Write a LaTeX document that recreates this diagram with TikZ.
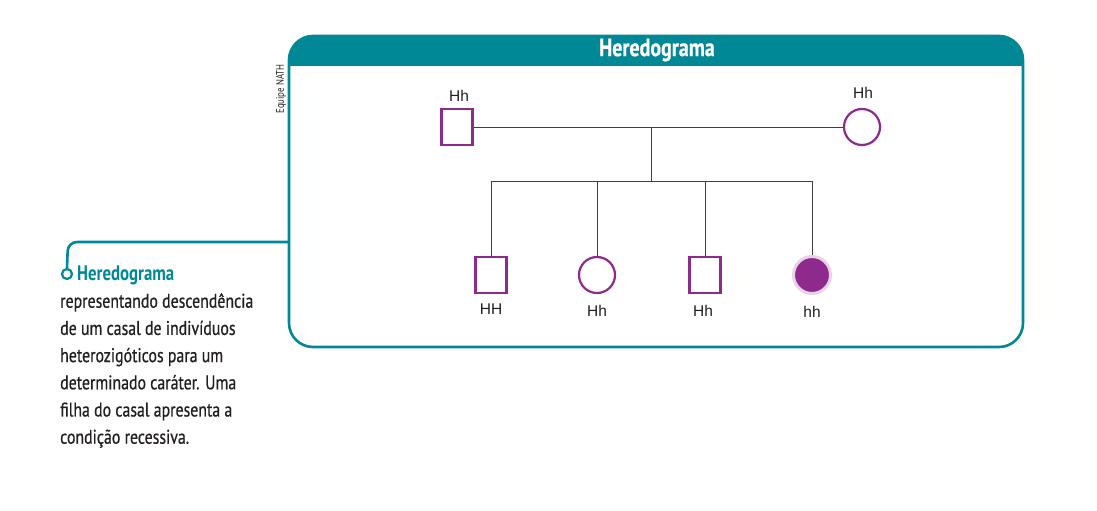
\documentclass[tikz,border=0pt]{standalone}
\usepackage{fontspec}
\setmainfont{Liberation Sans}
\newfontfamily\condfont[FakeStretch=0.8]{PT Sans}
\newfontfamily\bodyfont[FakeStretch=0.8,FakeBold=0.6]{PT Sans}
\newfontfamily\armfont{Liberation Sans}
\definecolor{teal}{HTML}{008896}
\definecolor{purp}{HTML}{8E2A8C}
\definecolor{halo}{HTML}{E8D2E8}
\definecolor{ink}{HTML}{231F20}
\tikzset{
  male/.style={draw=purp, line width=2.2pt, fill=white, minimum width=31pt, minimum height=36pt, inner sep=0pt},
  female/.style={circle, draw=purp, line width=2.2pt, fill=white, minimum size=36pt, inner sep=0pt},
  affected/.style={circle, draw=halo, line width=3pt, fill=purp, minimum size=37pt, inner sep=0pt},
  geno/.style={font=\armfont\fontsize{15.5}{15.5}\selectfont, text=ink, inner sep=0pt},
  link/.style={draw=black!75, line width=0.8pt},
  frame/.style={draw=teal, line width=2.6pt},
}
\begin{document}
\begin{tikzpicture}[x=1pt,y=-1pt]
\useasboundingbox (0,0) rectangle (1097,511);
% frame
\begin{scope}
  \clip[rounded corners=24pt] (289,36) rectangle (1023,347);
  \fill[teal] (280,30) rectangle (1030,66);
\end{scope}
\draw[frame, rounded corners=24pt] (289,36) rectangle (1023,347);
\node[font=\bodyfont\bfseries\fontsize{25}{25}\selectfont, text=white] (title) at (657,50) {Heredograma};
\node[rotate=90, font=\condfont\fontsize{11}{11}\selectfont, text=ink, inner sep=0pt] (credit) at (281,89) {Equipe NATH};
% connector
\coordinate (boxleft) at (289,242);
\node[circle, draw=teal, line width=2.2pt, fill=white, minimum size=10pt, inner sep=0pt] (dot) at (67,274) {};
\draw[teal, line width=2.6pt, rounded corners=9pt] (boxleft) -- (68,242) -- (dot.north);
% caption
\node[anchor=west, font=\condfont\bfseries\fontsize{21}{21}\selectfont, text=teal, inner sep=0pt] (captitle) at (77,275) {Heredograma};
\node[anchor=north west, align=left, font=\bodyfont\fontsize{19.8}{27.2}\selectfont, text=ink, inner sep=0pt] (captext) at (60,293) {representando descendência\\de um casal de indivíduos\\heterozigóticos para um\\determinado caráter. Uma\\filha do casal apresenta a\\condição recessiva.};
% pedigree
\node[male] (father) at (457,127) {};
\node[female] (mother) at (862,127) {};
\node[male] (c1) at (491,275) {};
\node[female] (c2) at (597,275) {};
\node[male] (c3) at (705,275) {};
\node[affected] (c4) at (812,275) {};
\coordinate (mid) at (651,127);
\coordinate (sib) at (651,181);
\draw[link] (father.east) -- (mother.west);
\draw[link] (mid) -- (sib);
\draw[link] (c1.north |- sib) -- (c4.north |- sib);
\foreach \c in {c1,c2,c3,c4} \draw[link] (\c.north |- sib) -- (\c.north);
% genotypes
\node[geno] (gf) at (459,96) {Hh};
\node[geno] (gm) at (863,93) {Hh};
\node[geno] (g1) at (491,309) {HH};
\node[geno] (g2) at (597,311) {Hh};
\node[geno] (g3) at (703,311) {Hh};
\node[geno] (g4) at (812,312) {hh};
\end{tikzpicture}
\end{document}
